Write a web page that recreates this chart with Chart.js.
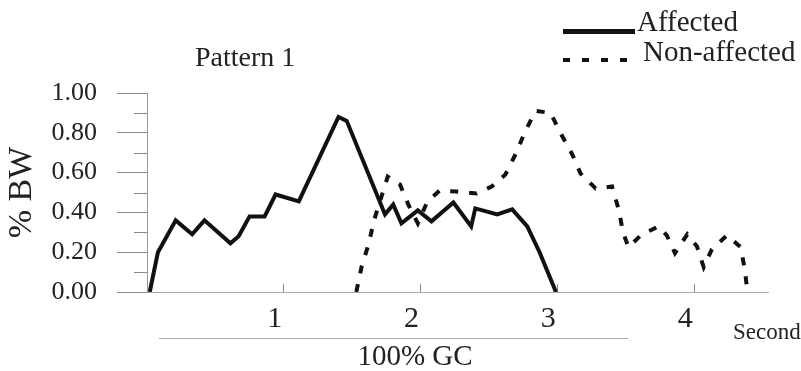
<!DOCTYPE html>
<html>
<head>
<meta charset="utf-8">
<script src="https://cdn.jsdelivr.net/npm/chart.js@4"></script>
<style>
  html, body { margin: 0; padding: 0; background: #fff; }
</style>
</head>
<body>
<canvas id="bwChart" width="801" height="371"></canvas>
<script>
// Affected (solid line)
const affectedX = [0.02, 0.08, 0.21, 0.33, 0.42, 0.61, 0.67, 0.75, 0.86, 0.94, 1.11, 1.40, 1.46,
                   1.74, 1.80, 1.86, 1.98, 2.08, 2.24, 2.37, 2.40, 2.56, 2.67, 2.78, 2.87, 2.99];
const affectedY = [0.00, 0.20, 0.36, 0.29, 0.36, 0.245, 0.28, 0.38, 0.38, 0.49, 0.455, 0.88, 0.86,
                   0.39, 0.44, 0.345, 0.41, 0.355, 0.45, 0.33, 0.42, 0.39, 0.415, 0.33, 0.20, 0.00];

// Non-affected (dashed line)
const nonAffectedX = [1.53, 1.57, 1.62, 1.66, 1.76, 1.85, 1.91, 1.98, 2.05, 2.14, 2.26, 2.41, 2.52,
                      2.62, 2.70, 2.76, 2.84, 2.95, 3.03, 3.11, 3.17, 3.28, 3.40, 3.45, 3.48, 3.52,
                      3.61, 3.74, 3.80, 3.86, 3.95, 4.02, 4.07, 4.13, 4.24, 4.34, 4.37, 4.39];
const nonAffectedY = [0.00, 0.13, 0.24, 0.36, 0.58, 0.54, 0.44, 0.345, 0.455, 0.51, 0.505, 0.495, 0.53,
                      0.59, 0.70, 0.80, 0.91, 0.90, 0.79, 0.69, 0.595, 0.52, 0.53, 0.41, 0.30, 0.225,
                      0.285, 0.33, 0.285, 0.195, 0.29, 0.23, 0.125, 0.215, 0.285, 0.225, 0.115, 0.00];

const xTickLabels = ['', '1', '2', '3', '4'];
const yTickLabels = ['0.00', '0.20', '0.40', '0.60', '0.80', '1.00'];

const SERIF = '"Liberation Serif", "Times New Roman", serif';
const TEXT = '#222';

const toPoints = (xs, ys) => xs.map((x, i) => ({ x: x, y: ys[i] }));

// extra drawing: minor y ticks, title, legend, GC bar, unit label
const extras = {
    id: 'extras',
    afterDraw(chart) {
        const ctx = chart.ctx;
        const yScale = chart.scales.y;
        const left = chart.chartArea.left;
        ctx.save();

        // minor ticks at 0.1, 0.3, ...
        ctx.strokeStyle = '#888';
        ctx.lineWidth = 1;
        ctx.beginPath();
        for (let v = 0.1; v < 1; v += 0.2) {
            const py = Math.round(yScale.getPixelForValue(v)) + 0.5;
            ctx.moveTo(left - 13, py);
            ctx.lineTo(left, py);
        }
        ctx.stroke();

        ctx.fillStyle = TEXT;
        ctx.textBaseline = 'alphabetic';
        ctx.textAlign = 'left';
        ctx.font = '28px ' + SERIF;
        ctx.fillText('Pattern 1', 195, 66);

        // legend
        ctx.strokeStyle = '#111';
        ctx.lineWidth = 5;
        ctx.beginPath();
        ctx.moveTo(563, 31.5);
        ctx.lineTo(635, 31.5);
        ctx.stroke();
        ctx.lineWidth = 4;
        ctx.setLineDash([7, 12]);
        ctx.beginPath();
        ctx.moveTo(563, 60);
        ctx.lineTo(635, 60);
        ctx.stroke();
        ctx.setLineDash([]);

        ctx.font = '29px ' + SERIF;
        ctx.fillText('Affected', 637, 31);
        ctx.fillText('Non-affected', 643, 61);

        // 100% GC bar
        ctx.strokeStyle = '#aaa';
        ctx.lineWidth = 1;
        ctx.beginPath();
        ctx.moveTo(159, 338.5);
        ctx.lineTo(628, 338.5);
        ctx.stroke();

        ctx.textBaseline = 'middle';
        ctx.textAlign = 'center';
        ctx.font = '29px ' + SERIF;
        ctx.fillText('100% GC', 415, 357);

        ctx.textAlign = 'left';
        ctx.font = '23px ' + SERIF;
        ctx.fillText('Second', 733, 333);

        ctx.restore();
    }
};

new Chart(document.getElementById('bwChart').getContext('2d'), {
    type: 'line',
    data: {
        datasets: [{
            label: 'Non-affected',
            data: toPoints(nonAffectedX, nonAffectedY),
            borderColor: '#111',
            borderWidth: 4,
            borderDash: [8, 11],
            pointRadius: 0,
            tension: 0,
            fill: false
        }, {
            label: 'Affected',
            data: toPoints(affectedX, affectedY),
            borderColor: '#111',
            borderWidth: 4,
            pointRadius: 0,
            tension: 0,
            fill: false
        }]
    },
    options: {
        responsive: false,
        animation: false,
        layout: {
            padding: { left: 0, top: 93, right: 33, bottom: 0 }
        },
        plugins: {
            legend: { display: false },
            tooltip: { enabled: false }
        },
        scales: {
            x: {
                type: 'linear',
                min: 0,
                max: 4.54,
                afterFit: (scale) => { scale.height = 79; },
                border: { display: true, color: '#aaa', width: 1 },
                grid: {
                    drawOnChartArea: false,
                    drawTicks: true,
                    tickLength: -8,
                    tickColor: (c) => (c.tick && c.tick.value === 0) ? 'rgba(0,0,0,0)' : '#888',
                    tickWidth: 1
                },
                ticks: {
                    stepSize: 1,
                    includeBounds: false,
                    padding: 17,
                    labelOffset: -9,
                    maxRotation: 0,
                    autoSkip: false,
                    color: TEXT,
                    font: { family: SERIF, size: 30 },
                    callback: (value, index) => xTickLabels[index]
                }
            },
            y: {
                min: 0,
                max: 1,
                afterFit: (scale) => { scale.width = 147; },
                border: { display: true, color: '#999', width: 1 },
                grid: {
                    drawOnChartArea: false,
                    drawTicks: true,
                    tickLength: 30,
                    tickColor: '#888',
                    tickWidth: 1
                },
                ticks: {
                    stepSize: 0.2,
                    padding: 20,
                    color: TEXT,
                    font: { family: SERIF, size: 26 },
                    callback: (value, index) => yTickLabels[index]
                },
                title: {
                    display: true,
                    text: '% BW',
                    color: TEXT,
                    font: { family: SERIF, size: 34 },
                    padding: { top: 2, bottom: 0 }
                }
            }
        }
    },
    plugins: [extras]
});
</script>
</body>
</html>
